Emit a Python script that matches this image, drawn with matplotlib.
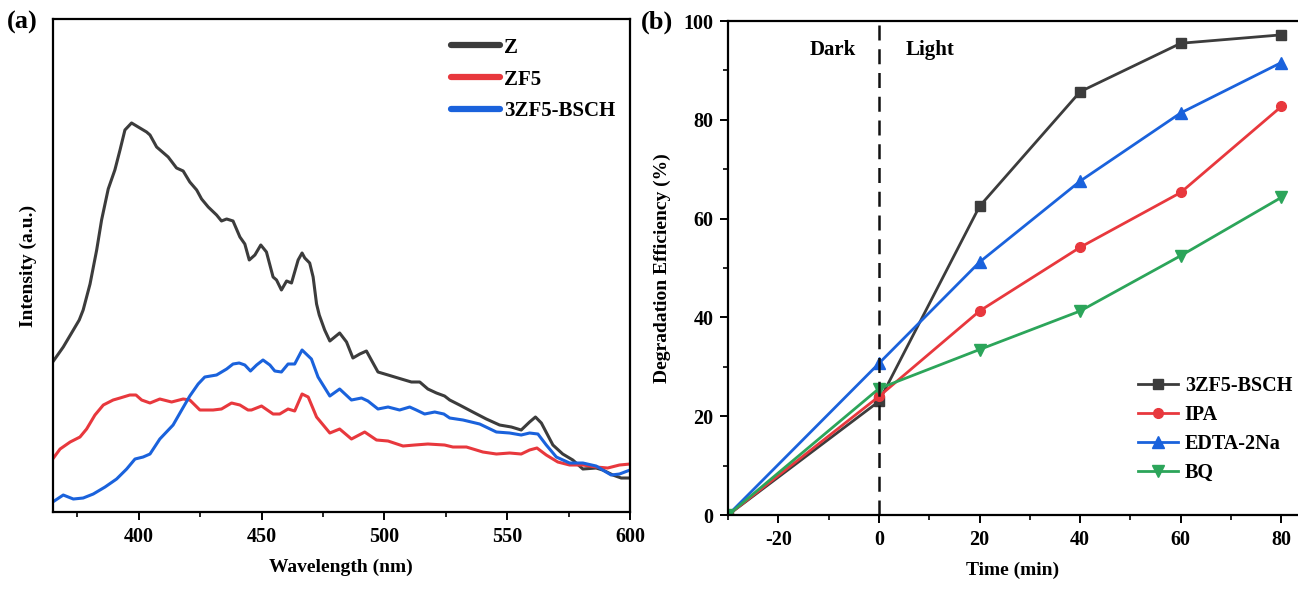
import matplotlib.pyplot as plt
from matplotlib.ticker import MultipleLocator

# ---- panel (a): PL spectra (intensity in a.u.) ----
z_wl = [365, 369.3, 373.4, 375.8, 377.4, 380.2, 382.9, 384.9, 387.6, 390.3, 392.4, 394.4,
        397.1, 399.8, 403.2, 404.6, 407.3, 412.0, 415.4, 418.1, 420.8, 423.6, 425.6, 428.3,
        431.7, 433.7, 435.8, 438.4, 441.2, 443.2, 445.0, 447.3, 449.7, 452.0, 454.7, 456.1,
        458.1, 460.2, 462.2, 464.9, 466.5, 467.6, 469.6, 471.0, 472.4, 473.5, 475.7, 477.8,
        481.8, 484.6, 487.2, 490.0, 492.7, 494.7, 497.4, 501.5, 506.9, 511.0, 514.4, 517.7,
        521.2, 524.5, 526.6, 530.6, 536.0, 541.5, 546.9, 551.7, 555.7, 559.1, 561.5, 563.9,
        568.6, 572.6, 576.7, 580.8, 586.2, 588.9, 593.0, 596.4, 600]
z_int = [150, 165, 182, 192, 202, 228, 262, 292, 323, 342, 362, 382,
         389, 385, 380, 377, 365, 355, 344, 341, 330, 322, 313, 305,
         297, 291, 293, 291, 275, 268, 252, 257, 267, 260, 235, 232,
         222, 231, 229, 252, 259, 254, 249, 235, 208, 197, 182, 171,
         179, 170, 154, 158, 161, 152, 140, 137, 133, 130, 130, 123,
         119, 116, 112, 107, 100, 93, 87, 85, 82, 90, 95, 89,
         67, 58, 52, 43, 44, 42, 37, 34, 34]

zf5_wl = [365, 368.0, 372.1, 376.1, 378.8, 382.2, 385.6, 389.6, 392.4, 396.4, 398.9, 401.2,
          404.6, 408.6, 413.4, 418.1, 420.8, 424.9, 430.3, 433.7, 437.8, 441.2, 444.5, 445.9,
          450.0, 454.7, 457.4, 460.8, 463.5, 466.5, 469.0, 472.4, 477.8, 481.8, 486.6, 492.0,
          496.8, 501.5, 507.6, 512.3, 517.7, 524.5, 527.9, 533.4, 540.1, 545.6, 551.0, 555.7,
          559.1, 562.1, 565.9, 570.6, 575.4, 580.8, 586.2, 590.9, 595.7, 600]
zf5_int = [53, 63, 70, 75, 83, 97, 107, 112, 114, 117, 117, 112,
           109, 113, 110, 113, 112, 102, 102, 103, 109, 107, 102, 102,
           106, 98, 98, 103, 101, 118, 115, 95, 79, 83, 73, 80,
           72, 71, 66, 67, 68, 67, 65, 65, 60, 58, 59, 58,
           62, 64, 57, 50, 47, 47, 45, 44, 47, 48]

bsch_wl = [365, 369.3, 373.4, 377.4, 381.5, 386.3, 391.0, 395.1, 398.5, 401.8, 404.6, 408.6,
           414.0, 417.5, 420.8, 424.2, 426.9, 431.7, 435.8, 438.4, 440.9, 443.2, 445.5, 448.0,
           450.6, 453.4, 455.4, 458.1, 460.8, 463.5, 466.5, 470.3, 473.0, 477.8, 481.8, 486.6,
           490.7, 493.3, 497.4, 501.5, 506.2, 510.3, 513.0, 516.4, 520.5, 524.2, 526.6, 532.0,
           538.8, 545.6, 551.0, 555.7, 559.1, 562.5, 565.9, 570.0, 575.4, 580.8, 586.2, 588.9,
           592.3, 595.7, 600]
bsch_int = [10, 17, 13, 14, 18, 25, 33, 43, 53, 55, 58, 73,
            87, 102, 116, 128, 135, 137, 143, 148, 149, 147, 141, 147,
            152, 147, 141, 140, 148, 148, 162, 153, 135, 116, 123, 112,
            114, 111, 103, 105, 102, 105, 102, 98, 100, 98, 94, 92,
            88, 80, 79, 77, 79, 78, 67, 55, 49, 49, 46, 42,
            37, 38, 42]

# ---- panel (b): degradation with scavengers ----
time_min = [-30, 0, 20, 40, 60, 80]
eff_bsch = [0, 23.0, 62.5, 85.7, 95.5, 97.2]
eff_ipa = [0, 24.0, 41.3, 54.2, 65.3, 82.7]
eff_edta = [0, 30.7, 51.2, 67.6, 81.4, 91.6]
eff_bq = [0, 25.6, 33.5, 41.3, 52.5, 64.3]

plt.rcParams["font.family"] = "Liberation Serif"
plt.rcParams["font.weight"] = "bold"
plt.rcParams["axes.labelweight"] = "bold"
plt.rcParams["axes.unicode_minus"] = False
plt.rcParams["axes.linewidth"] = 1.6
plt.rcParams["xtick.major.width"] = 1.4
plt.rcParams["ytick.major.width"] = 1.4
plt.rcParams["xtick.minor.width"] = 1.2
plt.rcParams["ytick.minor.width"] = 1.2
plt.rcParams["xtick.major.size"] = 5.5
plt.rcParams["ytick.major.size"] = 5.5
plt.rcParams["xtick.minor.size"] = 3.5
plt.rcParams["ytick.minor.size"] = 3.5

BLACK = "#3c3c3c"
RED = "#e8383d"
BLUE = "#1a62dc"
GREEN = "#2ca55a"

fig = plt.figure(figsize=(12.98, 5.89), dpi=100)

# ---------- (a) ----------
ax1 = fig.add_axes([0.0406, 0.1307, 0.4448, 0.8371])
ax1.plot(z_wl, z_int, color=BLACK, lw=2.2, label="Z")
ax1.plot(zf5_wl, zf5_int, color=RED, lw=2.2, label="ZF5")
ax1.plot(bsch_wl, bsch_int, color=BLUE, lw=2.2, label="3ZF5-BSCH")
ax1.set_xlim(365, 600)
ax1.set_ylim(0, 493)
ax1.set_yticks([])
ax1.xaxis.set_major_locator(MultipleLocator(50))
ax1.xaxis.set_minor_locator(MultipleLocator(25))
ax1.tick_params(axis="x", which="both", direction="out", labelsize=14.5, pad=5)
ax1.set_xlabel("Wavelength (nm)", fontsize=14, labelpad=9)
ax1.set_ylabel("Intensity (a.u.)", fontsize=14, labelpad=11)
leg1 = ax1.legend(loc="upper left", bbox_to_anchor=(0.69, 0.962), frameon=False,
                  fontsize=15, handlelength=2.35, handletextpad=0.2,
                  labelspacing=0.57, borderpad=0, borderaxespad=0)
for h in leg1.get_lines():
    h.set_linewidth(4.5)
    h.set_solid_capstyle("round")
fig.text(0.005, 0.962, "(a)", fontsize=19, fontweight="bold", va="center")

# ---------- (b) ----------
ax2 = fig.add_axes([0.5609, 0.1256, 0.4391, 0.8387])
ax2.plot(time_min, eff_bsch, color=BLACK, lw=2, marker="s", ms=7, label="3ZF5-BSCH")
ax2.plot(time_min, eff_ipa, color=RED, lw=2, marker="o", ms=7, label="IPA")
ax2.plot(time_min, eff_edta, color=BLUE, lw=2, marker="^", ms=8, label="EDTA-2Na")
ax2.plot(time_min, eff_bq, color=GREEN, lw=2, marker="v", ms=8, label="BQ")
ax2.axvline(0, color="#111111", lw=1.8, ls=(0, (6, 3.5)))
ax2.set_xlim(-30, 83.3)
ax2.set_ylim(0, 100)
ax2.spines["right"].set_visible(False)
ax2.xaxis.set_major_locator(MultipleLocator(20))
ax2.xaxis.set_minor_locator(MultipleLocator(10))
ax2.yaxis.set_major_locator(MultipleLocator(20))
ax2.yaxis.set_minor_locator(MultipleLocator(10))
ax2.tick_params(which="both", direction="out", labelsize=14.5, pad=5)
ax2.set_xlabel("Time (min)", fontsize=14, labelpad=9)
ax2.set_ylabel("Degradation Efficiency (%)", fontsize=14, labelpad=9)
ax2.text(-9.1, 94.2, "Dark", fontsize=15, fontweight="bold", ha="center", va="center")
ax2.text(10.1, 94.2, "Light", fontsize=15, fontweight="bold", ha="center", va="center")
ax2.legend(loc="upper left", bbox_to_anchor=(0.72, 0.282), frameon=False,
           fontsize=14.5, handlelength=1.95, handletextpad=0.35,
           labelspacing=0.45, borderpad=0, borderaxespad=0)
fig.text(0.494, 0.962, "(b)", fontsize=19, fontweight="bold", va="center")

fig.savefig("out.png", dpi=100)
